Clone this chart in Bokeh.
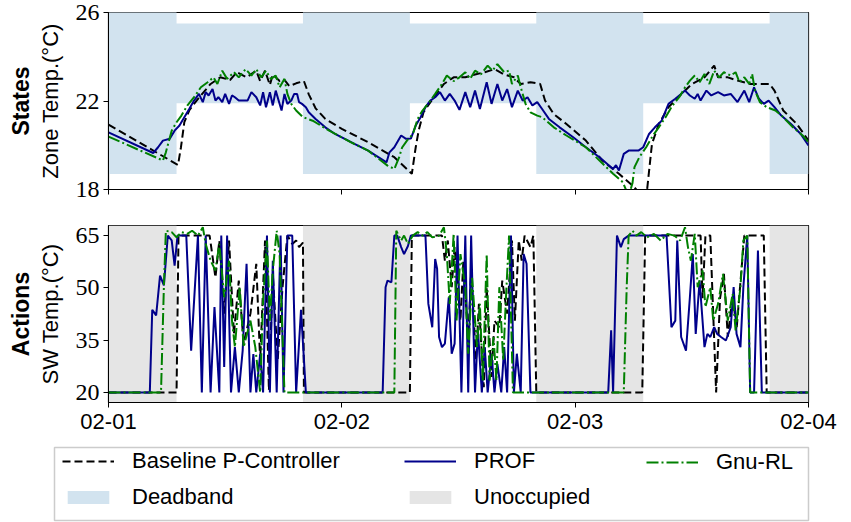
from bokeh.plotting import figure
from bokeh.models import Range1d, FixedTicker, BoxAnnotation, Legend, LegendItem, Title, ColumnDataSource
from bokeh.layouts import column
from bokeh.embed import file_html
from bokeh.resources import INLINE

# ---- time axis (hours since 02-01 00:00) ----
tick_hours = [0, 24, 48, 72]
tick_labels = ["02-01", "02-02", "02-03", "02-04"]

# ---- occupancy schedule and comfort band ----
occupied_start = [7, 31, 55]
occupied_end = [20, 44, 68]
deadband_occupied = [21.9, 25.5]
deadband_unoccupied = [18.7, 29.0]

# ---- zone temperature (hour, degC) ----
zone_baseline = [
    (0, 20.93), (7.15, 19.11), (7.45, 19.9), (7.8, 21.04), (8.3, 21.57), (8.8, 21.87),
    (9.5, 22.25), (10.5, 22.77), (11.5, 23.07), (12.5, 22.95), (13.2, 23.3), (14.2, 23.07),
    (15.2, 23.37), (15.6, 22.9), (16.1, 23.37), (16.6, 22.72), (16.9, 23.2), (17.6, 22.9),
    (18.1, 22.95), (18.6, 22.67), (19.3, 22.8), (20.1, 22.9), (20.6, 22.3), (21.3, 21.67),
    (22.3, 21.19), (24.0, 20.74), (26.7, 20.14), (29.4, 19.46), (31.2, 18.71), (31.6, 19.91),
    (31.9, 20.66), (32.4, 21.49), (33.45, 22.16), (34.5, 22.77), (35.5, 23.07), (36.7, 23.07),
    (37.7, 23.2), (38.7, 23.3), (39.7, 23.44), (40.7, 23.2), (41.7, 23.07), (42.4, 22.77),
    (43.4, 22.85), (44.4, 22.77), (44.9, 22.02), (45.8, 21.41), (47.1, 20.96), (49.1, 20.21),
    (50.8, 19.31), (52.5, 18.71), (53.9, 18.18), (54.5, 17.9), (55.0, 17.6), (55.4, 18.0),
    (55.9, 20.06), (56.6, 20.96), (57.6, 21.72), (58.6, 22.17), (60.0, 22.77), (61.3, 23.07),
    (62.3, 23.6), (62.7, 23.07), (63.7, 23.07), (64.7, 22.92), (66.0, 22.77), (68.0, 22.77),
    (68.5, 22.47), (69.4, 21.57), (70.8, 20.96), (72.0, 20.21),
]
zone_prof = [
    (0, 20.58), (4.6, 19.65), (5.1, 19.91), (5.6, 20.21), (6.3, 20.29), (6.8, 20.66),
    (7.3, 20.89), (7.8, 21.27), (8.3, 21.64), (8.8, 22.02), (9.3, 22.32), (9.7, 21.95),
    (10.0, 22.4), (10.3, 22.25), (10.7, 22.54), (11.0, 22.02), (11.3, 22.17), (11.7, 21.95),
    (12.0, 22.32), (12.4, 21.87), (12.7, 22.25), (13.0, 22.17), (13.4, 22.02), (13.9, 22.02),
    (14.3, 22.02), (14.7, 22.4), (15.2, 22.17), (15.6, 21.8), (15.9, 22.4), (16.2, 21.72),
    (16.6, 22.4), (16.9, 21.8), (17.2, 22.47), (17.8, 21.57), (18.1, 22.32), (18.4, 21.87),
    (18.8, 22.02), (19.1, 22.32), (19.4, 22.32), (19.6, 21.95), (19.9, 21.87), (20.3, 21.72),
    (20.6, 21.49), (21.3, 21.19), (22.3, 20.81), (23.3, 20.51), (25.3, 20.06), (26.7, 19.76),
    (28.6, 19.23), (28.9, 19.68), (29.4, 19.91), (30.1, 20.44), (30.6, 20.29), (31.1, 20.3),
    (31.6, 20.89), (32.1, 21.27), (32.6, 21.72), (33.1, 22.02), (33.6, 22.17), (34.1, 22.4),
    (34.6, 22.02), (35.1, 22.32), (35.6, 22.02), (36.1, 21.6), (36.7, 22.4), (37.2, 21.72),
    (37.7, 22.47), (38.2, 21.64), (38.9, 22.85), (39.4, 21.87), (40.0, 22.77), (40.5, 22.02),
    (41.0, 22.54), (41.5, 21.72), (42.1, 22.47), (42.6, 22.02), (43.1, 22.17), (43.6, 21.8),
    (44.1, 21.95), (44.6, 21.64), (45.3, 21.19), (46.4, 20.81), (47.8, 20.36), (49.1, 19.91),
    (50.5, 19.46), (51.9, 18.93), (52.2, 19.1), (52.5, 18.86), (53.0, 19.61), (53.5, 19.76),
    (54.5, 19.76), (55.0, 19.91), (55.6, 20.51), (56.2, 20.81), (56.9, 21.11), (57.6, 21.87),
    (58.3, 22.1), (58.9, 22.32), (59.3, 22.47), (59.8, 22.25), (60.3, 22.1), (60.6, 22.32),
    (60.9, 22.02), (61.5, 22.47), (62.0, 22.25), (62.7, 22.4), (63.3, 22.25), (64.0, 22.32),
    (64.7, 21.95), (65.4, 22.47), (65.9, 21.95), (66.4, 22.62), (66.9, 22.1), (67.4, 21.87),
    (67.9, 22.02), (68.5, 21.72), (69.2, 21.34), (70.2, 20.96), (71.2, 20.51), (72.0, 19.99),
]
zone_gnurl = [
    (0, 20.39), (5.6, 19.31), (5.9, 19.68), (6.5, 20.66), (7.0, 21.04), (7.5, 21.34),
    (8.1, 21.79), (8.8, 22.17), (9.5, 22.62), (10.2, 22.85), (10.8, 23.07), (11.2, 22.77),
    (11.7, 23.37), (12.2, 23.0), (12.9, 23.3), (13.4, 23.07), (14.1, 23.44), (14.7, 23.15),
    (15.2, 23.44), (15.7, 23.07), (16.2, 23.37), (16.7, 23.0), (17.2, 23.15), (17.6, 22.62),
    (18.1, 23.0), (18.4, 22.32), (18.8, 21.87), (19.3, 21.57), (20.0, 21.27), (21.0, 21.11),
    (22.7, 20.66), (24.9, 20.14), (26.7, 19.76), (28.7, 19.08), (29.4, 18.93), (29.9, 19.46),
    (30.2, 19.9), (30.7, 20.21), (31.3, 20.5), (31.8, 21.19), (32.3, 21.57), (33.0, 21.95),
    (33.6, 22.32), (34.3, 22.77), (34.8, 23.15), (35.5, 22.9), (36.1, 23.07), (36.7, 23.3),
    (37.2, 23.0), (37.7, 23.37), (38.3, 23.2), (39.0, 23.6), (39.5, 23.37), (40.0, 23.67),
    (40.7, 23.3), (41.2, 23.37), (41.5, 22.77), (42.1, 23.15), (42.4, 22.62), (42.9, 21.87),
    (43.4, 21.49), (44.1, 21.34), (44.6, 21.27), (45.8, 20.81), (47.1, 20.44), (49.1, 19.91),
    (50.5, 19.31), (51.9, 18.71), (52.9, 18.33), (53.5, 17.7), (53.9, 18.3), (54.1, 19.01),
    (54.6, 19.46), (55.3, 19.91), (56.0, 20.44), (56.6, 20.81), (57.3, 21.27), (58.0, 21.79),
    (58.7, 22.17), (59.3, 22.62), (59.8, 22.92), (60.3, 23.15), (60.8, 22.85), (61.3, 23.22),
    (61.8, 22.77), (62.3, 23.37), (62.8, 23.07), (63.3, 23.3), (64.0, 23.15), (64.5, 23.3),
    (64.9, 22.85), (65.4, 23.07), (65.9, 22.77), (66.2, 23.22), (66.5, 22.47), (67.0, 21.95),
    (67.7, 21.72), (68.6, 21.57), (69.4, 21.27), (70.4, 20.81), (71.4, 20.44), (72.0, 20.14),
]

# ---- supply water temperature setpoint (hour, degC) ----
sw_baseline = [
    (0, 20), (7.0, 20), (7.2, 65), (9.8, 65), (10.4, 65), (11.0, 53), (11.4, 63.6),
    (11.9, 42.6), (12.4, 63.6), (12.9, 36.8), (13.4, 52.1), (13.9, 34), (14.6, 42.6),
    (15.2, 56.9), (15.6, 29.2), (16.1, 63.6), (16.5, 20.6), (16.9, 54), (17.4, 29.2),
    (17.9, 50.2), (18.4, 65), (18.9, 62.6), (19.3, 63.6), (19.6, 61.7), (20.0, 63), (20.1, 20),
    (31.0, 20), (31.2, 65), (34.3, 65), (34.6, 57.8), (34.9, 63.6), (35.3, 50.2), (35.6, 61.7),
    (36.2, 40.6), (36.5, 57.8), (37.0, 34.9), (37.3, 55), (37.8, 29.2), (38.1, 45.4),
    (38.6, 21.5), (38.9, 50.2), (39.4, 24.4), (39.7, 40.6), (40.2, 38.7), (40.5, 52.1),
    (41.0, 42.6), (41.5, 63.6), (41.8, 40.6), (42.2, 63.6), (42.5, 57.8), (42.8, 65),
    (43.4, 61.7), (43.7, 65), (44.0, 20),
    (54.9, 20), (55.2, 65), (60.9, 65), (61.1, 47), (61.4, 65), (61.9, 65), (62.5, 20),
    (62.9, 47), (63.3, 54), (63.7, 36), (64.2, 48), (64.6, 38), (65.1, 55), (65.4, 65),
    (67.4, 65), (67.7, 20), (72.0, 20),
]
sw_prof = [
    (0, 20), (4.25, 20), (4.5, 43.7), (4.9, 42.1), (5.3, 53.5), (5.7, 50.7), (6.1, 65),
    (6.5, 63.6), (6.8, 56.4), (7.1, 65), (8.0, 65), (8.5, 32), (9.2, 65), (9.6, 20), (10.0, 65),
    (10.5, 20), (10.9, 44.5), (11.4, 20), (11.6, 65), (11.9, 27.3), (12.2, 65), (12.6, 20),
    (13.0, 33), (13.4, 20), (13.8, 32), (14.2, 56.9), (14.6, 20), (14.9, 31), (15.2, 20),
    (15.6, 31), (15.9, 20), (16.3, 65), (16.6, 20), (16.9, 57.8), (17.3, 20), (17.7, 65),
    (18.0, 20), (18.4, 65), (18.9, 65), (19.3, 20), (19.8, 43.7), (20.3, 20),
    (28.2, 20), (28.5, 50.2), (28.7, 52.1), (29.1, 51.6), (29.4, 65), (29.7, 65), (30.1, 61.7),
    (30.4, 59.7), (30.8, 62), (31.1, 65), (32.6, 65), (32.9, 45.4), (33.3, 38.7), (33.6, 58.3),
    (33.8, 55.5), (34.0, 35.9), (34.3, 33), (34.6, 34), (35.0, 47.3), (35.3, 31.1), (35.6, 34),
    (35.9, 65), (36.3, 20), (36.7, 65), (37.0, 20), (37.3, 65), (37.7, 20), (38.0, 37.8),
    (38.4, 20), (38.7, 33), (39.0, 20), (39.4, 31.1), (39.7, 20), (40.0, 28.2), (40.4, 20),
    (40.7, 33), (41.0, 20), (41.4, 65), (41.7, 20), (42.0, 31.1), (42.4, 20), (42.7, 59.7),
    (43.0, 56.9), (43.4, 20),
    (51.4, 20), (51.7, 37.8), (51.9, 20), (52.3, 65), (52.7, 61.7), (53.0, 64), (53.5, 65),
    (57.4, 65), (57.9, 38.7), (58.3, 40.6), (58.5, 63.6), (58.9, 35.9), (59.4, 32), (59.8, 47.3),
    (60.1, 59.7), (60.4, 36.8), (60.8, 52.1), (61.3, 33), (61.6, 36.8), (61.9, 35.9),
    (62.3, 38.7), (62.6, 36.8), (63.0, 35.9), (63.5, 34.9), (64.0, 38.7), (64.3, 50.2),
    (64.6, 36.8), (65.0, 33), (65.3, 50.2), (65.7, 65), (66.0, 20), (66.4, 20), (66.8, 60.7),
    (67.2, 20), (72.0, 20),
]
sw_gnurl = [
    (0, 20), (5.4, 20), (5.7, 50.7), (5.9, 66.4), (6.5, 66), (7.0, 64.5), (7.5, 66),
    (8.1, 65.5), (8.6, 66.4), (9.2, 65), (9.7, 67.4), (10.0, 62.6), (10.5, 57.8), (11.0, 55),
    (11.4, 62.6), (11.9, 47.3), (12.4, 57.8), (12.7, 40.6), (13.0, 33), (13.5, 50.2),
    (13.9, 33), (14.6, 40.6), (15.1, 33), (15.6, 20), (15.9, 46.4), (16.3, 63.6), (16.6, 40.6),
    (16.9, 55), (17.3, 66.4), (17.6, 59.7), (18.1, 20),
    (29.4, 20), (29.6, 66.4), (30.1, 63.6), (30.4, 65), (30.8, 62.6), (31.3, 65), (31.8, 66),
    (32.3, 65), (32.8, 66), (33.3, 64.5), (34.0, 65), (34.5, 67.4), (34.8, 59.7), (35.1, 45.4),
    (35.5, 65.5), (35.8, 40.6), (36.2, 59.7), (36.7, 50.2), (37.0, 31.1), (37.4, 52.9),
    (37.9, 33), (38.2, 45.4), (38.5, 23.4), (38.9, 59.7), (39.2, 23.4), (39.6, 35.9),
    (39.9, 23.4), (40.2, 50.2), (40.6, 29.2), (40.9, 48.3), (41.2, 65), (41.6, 20),
    (53.0, 20), (53.3, 50.2), (53.5, 65), (53.9, 66.4), (54.3, 65), (54.8, 66), (55.4, 64.5),
    (56.1, 65.5), (56.8, 63.6), (57.5, 65.5), (58.2, 65), (58.8, 63.6), (59.3, 67.4),
    (59.6, 61.7), (59.9, 57.8), (60.3, 65.5), (60.6, 50.2), (61.1, 55), (61.4, 44.5),
    (61.9, 50.2), (62.2, 40.6), (62.7, 45.4), (63.2, 54), (63.7, 40.6), (64.2, 48.3),
    (64.5, 37.8), (65.0, 50.2), (65.3, 63.6), (65.7, 65), (66.0, 20), (72.0, 20),
]

# ---- styling ----
W = 851
DEADBAND_FILL = "#d2e3ef"
UNOCC_FILL = "#e5e5e5"
BASE_STYLE = dict(line_color="black", line_dash="8 4", line_width=2)
PROF_STYLE = dict(line_color="#00008b", line_width=2)
GNU_STYLE = dict(line_color="#008000", line_dash="12 3 2 3", line_width=2)
SANS = "Liberation Sans"
SERIF = "Liberation Serif"


def source(pairs):
    return ColumnDataSource(data=dict(x=[p[0] for p in pairs], y=[p[1] for p in pairs]))


def panel(height, y_range, y_ticks, border_top, border_bottom):
    p = figure(width=W, height=height, title=None, x_range=Range1d(0, 72), y_range=y_range,
               output_backend="svg", toolbar_location=None,
               min_border_left=108, min_border_right=31,
               min_border_top=border_top, min_border_bottom=border_bottom)
    p.grid.visible = False
    p.outline_line_color = "black"
    p.outline_line_width = 1.2
    p.background_fill_color = "white"
    for ax in (p.xaxis[0], p.yaxis[0]):
        ax.axis_line_color = "black"
        ax.major_tick_line_color = "black"
        ax.major_tick_out = 5
        ax.major_tick_in = 0
        ax.minor_tick_out = 0
        ax.minor_tick_in = 0
        ax.major_label_text_color = "black"
    p.xaxis.ticker = FixedTicker(ticks=tick_hours)
    p.xaxis.major_label_overrides = dict(zip(tick_hours, tick_labels))
    p.xaxis.major_label_text_font = SANS
    p.xaxis.major_label_text_font_size = "22px"
    p.xaxis.major_label_standoff = 6
    p.yaxis.ticker = FixedTicker(ticks=y_ticks)
    p.yaxis.major_label_text_font = SERIF
    p.yaxis.major_label_text_font_size = "24px"
    p.yaxis.major_label_standoff = 4
    p.yaxis.axis_label_text_font = SANS
    p.yaxis.axis_label_text_font_size = "22px"
    p.yaxis.axis_label_text_font_style = "normal"
    p.yaxis.axis_label_text_color = "black"
    p.yaxis.axis_label_standoff = 10
    return p


def side_title(p, text):
    t = Title(text=text, align="center", text_font=SANS, text_font_size="23px",
              text_font_style="bold", text_color="black", standoff=2)
    p.add_layout(t, "left")


# ---- data sources ----
src_zone_base = source(zone_baseline)
src_zone_prof = source(zone_prof)
src_zone_gnu = source(zone_gnurl)
src_sw_base = source(sw_baseline)
src_sw_prof = source(sw_prof)
src_sw_gnu = source(sw_gnurl)

db_x = [0]
db_lo = [deadband_unoccupied[0]]
db_hi = [deadband_unoccupied[1]]
for s, e in zip(occupied_start, occupied_end):
    db_x += [s, s, e, e]
    db_lo += [deadband_unoccupied[0], deadband_occupied[0], deadband_occupied[0], deadband_unoccupied[0]]
    db_hi += [deadband_unoccupied[1], deadband_occupied[1], deadband_occupied[1], deadband_unoccupied[1]]
db_x.append(72)
db_lo.append(deadband_unoccupied[0])
db_hi.append(deadband_unoccupied[1])
src_deadband = ColumnDataSource(data=dict(x=db_x, lo=db_lo, hi=db_hi))

# ---- top panel: zone temperature ----
top = panel(207, Range1d(18, 26), [18, 22, 26], 12, 18)
top.xaxis.major_label_overrides = {t: "" for t in tick_hours}
top.xaxis.major_label_text_font_size = "1px"
top.xaxis.major_label_standoff = 0
top.yaxis.axis_label = "Zone Temp.(°C)"
side_title(top, "States")

top.varea(x="x", y1="lo", y2="hi", source=src_deadband, fill_color=DEADBAND_FILL)
top.line("x", "y", source=src_zone_base, **BASE_STYLE)
top.line("x", "y", source=src_zone_prof, **PROF_STYLE)
top.line("x", "y", source=src_zone_gnu, **GNU_STYLE)

# ---- bottom panel: supply water temperature ----
bot = panel(235, Range1d(17.1, 67.9), [20, 35, 50, 65], 18, 40)
bot.yaxis.axis_label = "SW Temp.(°C)"
side_title(bot, "Actions")

unocc_start = [0] + occupied_end
unocc_end = occupied_start + [72]
for s, e in zip(unocc_start, unocc_end):
    bot.add_layout(BoxAnnotation(left=s, right=e, fill_color=UNOCC_FILL, fill_alpha=1,
                                 line_alpha=0, level="underlay"))

bot.line("x", "y", source=src_sw_base, **BASE_STYLE)
bot.line("x", "y", source=src_sw_prof, **PROF_STYLE)
bot.line("x", "y", source=src_sw_gnu, **GNU_STYLE)

# ---- shared legend (samples reuse the series sources, all outside this frame's range) ----
leg = figure(width=W, height=80, title=None, x_range=Range1d(0, 1), y_range=Range1d(-2, -1),
             output_backend="svg", toolbar_location=None,
             x_axis_location=None, y_axis_location=None,
             min_border_left=54, min_border_right=43, min_border_top=5, min_border_bottom=2)
leg.frame_align = False
leg.grid.visible = False
leg.outline_line_color = "#cccccc"
leg.outline_line_width = 1.5

r_base = leg.line("x", "y", source=src_zone_base, **BASE_STYLE)
r_prof = leg.line("x", "y", source=src_zone_prof, **PROF_STYLE)
r_gnu = leg.line("x", "y", source=src_zone_gnu, **GNU_STYLE)
r_db = leg.varea(x="x", y1="lo", y2="hi", source=src_deadband, fill_color=DEADBAND_FILL)
r_un = leg.varea(x="x", y1="lo", y2="hi", source=src_deadband, fill_color=UNOCC_FILL)


def add_legend(items, loc):
    lgd = Legend(items=[LegendItem(label=t, renderers=[r]) for t, r in items],
                 location=loc, orientation="vertical", border_line_alpha=0,
                 background_fill_alpha=0, padding=0, margin=0,
                 glyph_width=52, glyph_height=16, label_standoff=18, spacing=10,
                 label_height=20, label_text_font=SANS, label_text_font_size="22px",
                 label_text_color="black")
    leg.add_layout(lgd, "center")


add_legend([("Baseline P-Controller", r_base), ("Deadband", r_db)], (8, 10))
add_legend([("PROF", r_prof), ("Unoccupied", r_un)], (350, 10))
add_legend([("Gnu-RL", r_gnu)], (592, 45))

layout = column(top, bot, leg, spacing=0)
open("out.html", "w").write(file_html(layout, INLINE))
